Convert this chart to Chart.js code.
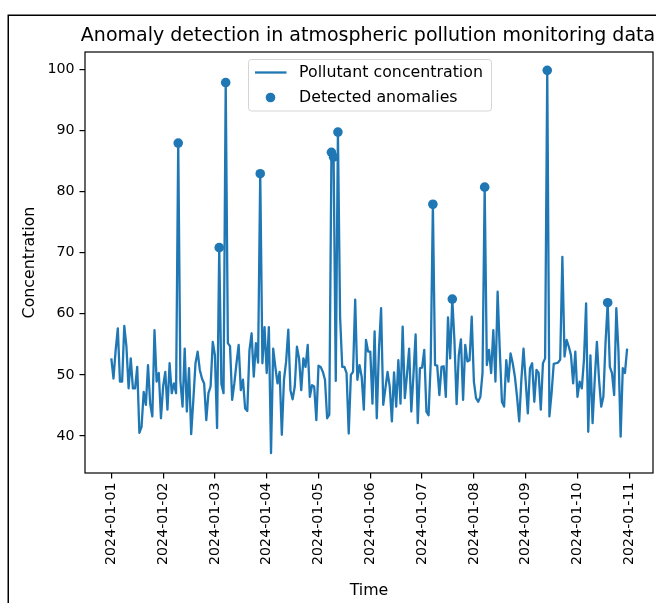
<!DOCTYPE html>
<html>
<head>
<meta charset="utf-8">
<script src="https://cdn.jsdelivr.net/npm/chart.js@4.4.1/dist/chart.umd.min.js"></script>
<style>
  html,body{margin:0;padding:0;background:#fff;overflow:hidden;}
  #wrap{width:656px;height:603px;overflow:hidden;}
  canvas{display:block;}
</style>
</head>
<body>
<div id="wrap"><canvas id="chart" width="736" height="603"></canvas></div>
<script>
// hourly readings, 2024-01-01 00:00 onwards (hour index = position in array)
const concentration = [
  52.7, 49.4, 54.0, 57.6, 48.9, 48.9, 58.0, 54.6, 47.8, 52.7,
  47.8, 47.8, 51.3, 40.5, 41.5, 47.2, 45.1, 51.6, 45.3, 43.2,
  57.3, 48.9, 50.3, 42.9, 48.1, 50.5, 44.3, 51.9, 47.0, 48.6,
  47.0, 87.9, 49.0, 44.8, 54.3, 44.0, 51.1, 40.3, 45.9, 51.9,
  53.8, 50.8, 49.4, 48.6, 42.6, 47.0, 48.1, 55.4, 53.2, 41.3,
  70.8, 48.5, 47.0, 97.8, 55.2, 54.7, 45.9, 48.6, 51.9, 54.9,
  47.5, 49.2, 44.5, 44.1, 54.0, 56.8, 49.7, 55.2, 52.0, 82.9,
  51.9, 57.8, 50.3, 57.8, 37.2, 54.3, 51.3, 48.6, 50.5, 40.2,
  49.2, 52.2, 57.4, 47.5, 46.0, 48.1, 54.6, 52.7, 47.5, 52.7,
  51.3, 54.9, 46.4, 48.3, 48.1, 42.6, 51.5, 51.3, 50.5, 49.2,
  42.9, 43.5, 86.4, 85.6, 49.0, 89.7, 59.5, 51.3, 51.3, 50.3,
  40.4, 50.0, 50.5, 62.3, 49.2, 51.6, 49.7, 44.3, 55.7, 53.8,
  53.8, 45.3, 57.1, 42.9, 54.0, 60.9, 45.1, 47.8, 50.5, 48.1,
  42.4, 50.4, 44.8, 52.4, 45.3, 57.9, 46.2, 50.0, 54.3, 44.0,
  50.0, 56.6, 42.1, 51.1, 51.2, 54.1, 44.0, 43.4, 52.0, 77.9,
  51.6, 51.5, 46.7, 51.3, 51.4, 46.4, 59.4, 52.7, 62.4, 55.5,
  45.2, 53.2, 55.8, 45.9, 54.9, 52.2, 52.4, 59.5, 48.9, 46.2,
  45.6, 46.4, 50.3, 80.7, 51.6, 54.1, 50.3, 57.3, 48.9, 63.6,
  54.0, 45.6, 44.8, 52.4, 48.9, 53.5, 51.9, 49.7, 46.4, 42.4,
  49.2, 54.3, 49.0, 43.7, 51.1, 51.9, 45.6, 50.8, 50.3, 44.3,
  51.9, 52.7, 99.8, 43.2, 47.0, 51.8, 51.9, 52.0, 52.5, 69.3,
  53.0, 55.7, 54.6, 53.2, 48.6, 53.8, 46.4, 48.9, 47.8, 52.4,
  61.7, 40.7, 53.2, 42.1, 49.2, 55.4, 49.2, 44.8, 46.4, 55.2,
  61.8, 51.3, 50.3, 46.7, 60.9, 53.8, 39.9, 51.1, 50.3, 54.3
];
// hours flagged as anomalies
const anomalyHours = [31, 50, 53, 69, 102, 103, 105, 149, 158, 173, 202, 230];

const dateLabels = ['2024-01-01','2024-01-02','2024-01-03','2024-01-04','2024-01-05','2024-01-06',
  '2024-01-07','2024-01-08','2024-01-09','2024-01-10','2024-01-11'];
const tickHours = [0, 24, 48, 72, 96, 120, 144, 168, 192, 216, 240];
const yTicks = [40, 50, 60, 70, 80, 90, 100];

const TITLE = 'Anomaly detection in atmospheric pollution monitoring data';
const BLUE = '#1f77b4';
const FONT = '"DejaVu Sans", sans-serif';

const linePoints = concentration.map((v, i) => ({ x: i, y: v }));
const anomalyPoints = anomalyHours.map(h => ({ x: h, y: concentration[h] }));

// figure frame, axes box and the matplotlib-like legend
const decor = {
  id: 'decor',
  beforeDraw(chart){
    const ctx = chart.ctx;
    ctx.save();
    ctx.fillStyle = '#fff';
    ctx.fillRect(0, 0, chart.width, chart.height);
    ctx.strokeStyle = '#000';
    ctx.lineWidth = 1.5;
    ctx.strokeRect(8.25, 15.25, 1000, 1000);
    ctx.restore();
  },
  afterDraw(chart){
    const ctx = chart.ctx;
    const a = chart.chartArea;
    ctx.save();
    ctx.strokeStyle = '#000';
    ctx.lineWidth = 1.2;
    ctx.strokeRect(a.left, a.top, a.right - a.left, a.bottom - a.top);

    // legend
    ctx.beginPath();
    ctx.roundRect(248.5, 59.5, 243, 51.5, 3);
    ctx.fillStyle = 'rgba(255,255,255,0.8)';
    ctx.fill();
    ctx.strokeStyle = '#d5d5d5';
    ctx.lineWidth = 1;
    ctx.stroke();

    const ds = chart.data.datasets;
    ctx.strokeStyle = BLUE;
    ctx.lineWidth = 2.3;
    ctx.beginPath();
    ctx.moveTo(255, 72.5);
    ctx.lineTo(286.5, 72.5);
    ctx.stroke();
    ctx.fillStyle = BLUE;
    ctx.beginPath();
    ctx.arc(270.5, 97.5, 4.8, 0, Math.PI * 2);
    ctx.fill();

    ctx.fillStyle = '#000';
    ctx.font = '15.8px ' + FONT;
    ctx.textBaseline = 'middle';
    ctx.textAlign = 'left';
    ctx.fillText(ds[0].label, 299, 73);
    ctx.fillText(ds[1].label, 299, 98);
    ctx.restore();
  }
};

const tickFont = { family: FONT, size: 14.2 };
const labelFont = { family: FONT, size: 15.8 };

new Chart(document.getElementById('chart'), {
  type: 'line',
  data: {
    datasets: [
      {
        label: 'Pollutant concentration',
        data: linePoints,
        borderColor: BLUE,
        borderWidth: 2.3,
        borderJoinStyle: 'round',
        pointRadius: 0,
        tension: 0,
        order: 2
      },
      {
        type: 'scatter',
        label: 'Detected anomalies',
        data: anomalyPoints,
        backgroundColor: BLUE,
        borderColor: BLUE,
        borderWidth: 0,
        pointRadius: 4.8,
        order: 1
      }
    ]
  },
  options: {
    responsive: false,
    animation: false,
    devicePixelRatio: 1,
    layout: { padding: 0 },
    plugins: {
      legend: { display: false },
      tooltip: { enabled: false },
      title: {
        display: true,
        text: TITLE,
        color: '#000',
        font: { family: FONT, size: 19, weight: 'normal' },
        padding: { top: 24.5, bottom: 4.7 }
      }
    },
    scales: {
      x: {
        type: 'linear',
        min: -12.2,
        max: 251,
        afterBuildTicks: s => { s.ticks = tickHours.map(v => ({ value: v })); },
        afterFit: s => { s.height = 130; },
        ticks: {
          autoSkip: false,
          minRotation: 90,
          maxRotation: 90,
          padding: 4,
          color: '#000',
          font: tickFont,
          callback: v => dateLabels[tickHours.indexOf(v)]
        },
        grid: { display: true, drawOnChartArea: false, drawTicks: true, tickLength: 5.5, color: '#000', lineWidth: 1.2 },
        border: { display: false },
        title: { display: true, text: 'Time', color: '#000', font: labelFont, padding: { top: 0, bottom: 2.5 } }
      },
      y: {
        min: 33.95,
        max: 102.8,
        afterBuildTicks: s => { s.ticks = yTicks.map(v => ({ value: v })); },
        afterFit: s => { s.width = 85; },
        ticks: { padding: 5, color: '#000', font: tickFont },
        grid: { display: true, drawOnChartArea: false, drawTicks: true, tickLength: 5.5, color: '#000', lineWidth: 1.2 },
        border: { display: false },
        title: { display: true, text: 'Concentration', color: '#000', font: labelFont, padding: { top: 20.5, bottom: 0 } }
      },
      y2: {
        position: 'right',
        display: true,
        min: 0,
        max: 1,
        ticks: { display: false },
        grid: { display: false },
        border: { display: false },
        afterFit: s => { s.width = 83; }
      }
    }
  },
  plugins: [decor]
});
</script>
</body>
</html>
